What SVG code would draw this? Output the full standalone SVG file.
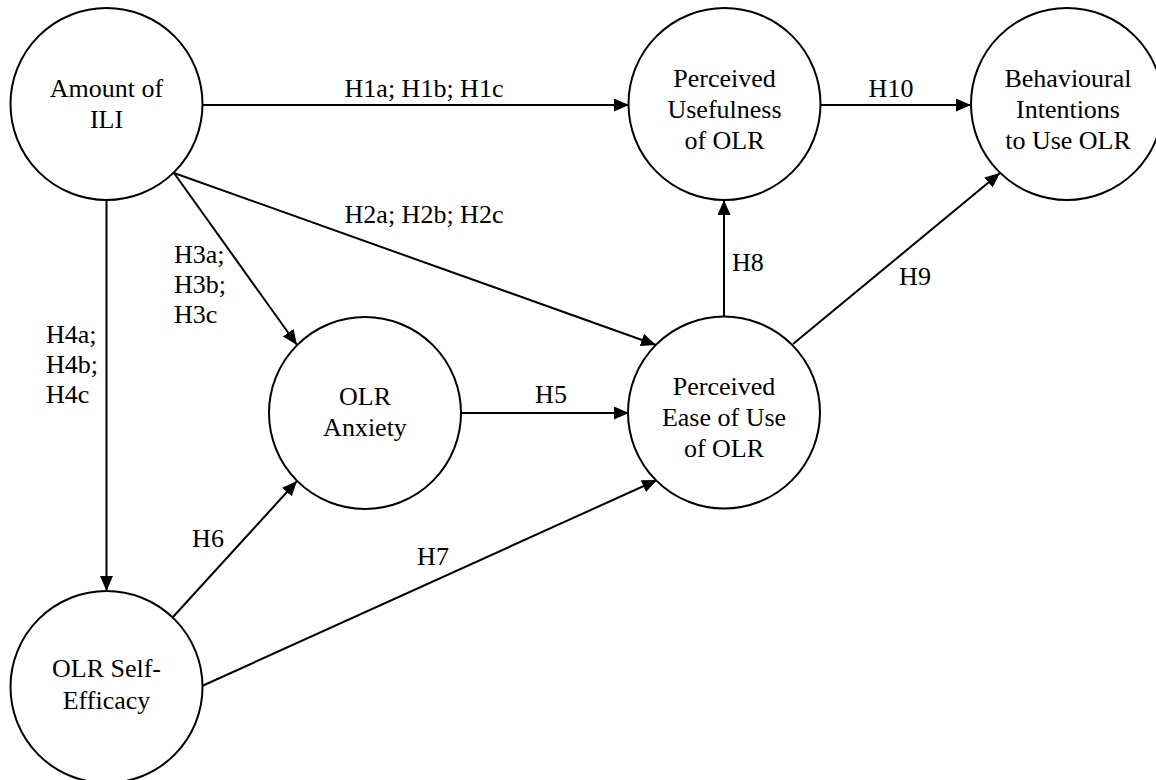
<svg xmlns="http://www.w3.org/2000/svg" width="1156" height="780" viewBox="0 0 1156 780">
<style>
.node{fill:#fff;stroke:#000;stroke-width:2}
text{font-family:"Times New Roman",Times,"Liberation Serif","DejaVu Serif",serif;font-size:26px;fill:#000}
.c{text-anchor:middle}
.edge{stroke:#000;stroke-width:2;fill:none;marker-end:url(#arr)}
</style>
<defs>
<marker id="arr" markerUnits="userSpaceOnUse" markerWidth="16" markerHeight="14" refX="15" refY="6.5" orient="auto">
<path d="M0,0 L15,6.5 L0,13 z" fill="#000"/>
</marker>
</defs>
<rect width="1156" height="780" fill="#fff"/>
<g id="connectors">
<line class="edge" x1="202" y1="105" x2="629" y2="105"/>
<line class="edge" x1="820" y1="105" x2="971" y2="105"/>
<line class="edge" x1="174" y1="173" x2="656" y2="345"/>
<line class="edge" x1="174" y1="173" x2="297" y2="345"/>
<line class="edge" x1="106.5" y1="200" x2="106.5" y2="591"/>
<line class="edge" x1="173" y1="617" x2="297" y2="481"/>
<line class="edge" x1="202" y1="686" x2="657" y2="480"/>
<line class="edge" x1="724" y1="317" x2="724" y2="200"/>
<line class="edge" x1="793" y1="344" x2="1000" y2="173"/>
<line class="edge" x1="461" y1="413" x2="629" y2="413"/>
<text class="c" x="424" y="97">H1a; H1b; H1c</text>
<text class="c" x="891" y="97">H10</text>
<text class="c" x="424" y="223">H2a; H2b; H2c</text>
<text x="174" y="263">H3a;</text>
<text x="174" y="293">H3b;</text>
<text x="174" y="323">H3c</text>
<text x="46" y="343">H4a;</text>
<text x="46" y="373">H4b;</text>
<text x="46" y="403">H4c</text>
<text class="c" x="551" y="403">H5</text>
<text class="c" x="208" y="547">H6</text>
<text class="c" x="433" y="565">H7</text>
<text x="732" y="271">H8</text>
<text class="c" x="915" y="285">H9</text>
</g>
<g id="amount">
<circle class="node" cx="106.5" cy="104" r="96"/>
<text class="c" x="106.5" y="97">Amount of</text>
<text class="c" x="106.5" y="128">ILI</text>
</g>
<g id="pu">
<circle class="node" cx="724.5" cy="104" r="96"/>
<text class="c" x="724.5" y="87">Perceived</text>
<text class="c" x="724.5" y="118">Usefulness</text>
<text class="c" x="724.5" y="149">of OLR</text>
</g>
<g id="bi">
<circle class="node" cx="1067" cy="104" r="96"/>
<text class="c" x="1068" y="87">Behavioural</text>
<text class="c" x="1068" y="118">Intentions</text>
<text class="c" x="1068" y="149">to Use OLR</text>
</g>
<g id="anxiety">
<circle class="node" cx="365" cy="413" r="96"/>
<text class="c" x="365" y="405">OLR</text>
<text class="c" x="365" y="436">Anxiety</text>
</g>
<g id="peou">
<circle class="node" cx="724" cy="412.5" r="96"/>
<text class="c" x="724" y="395">Perceived</text>
<text class="c" x="724" y="426">Ease of Use</text>
<text class="c" x="724" y="457">of OLR</text>
</g>
<g id="selfeff">
<circle class="node" cx="106.5" cy="687" r="96"/>
<text class="c" x="106.5" y="677">OLR Self-</text>
<text class="c" x="106.5" y="709">Efficacy</text>
</g>
</svg>
